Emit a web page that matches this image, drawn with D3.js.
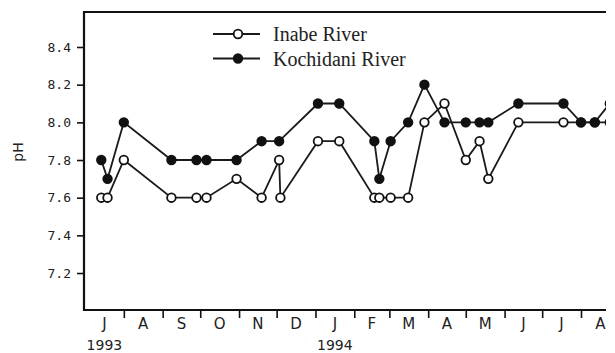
<html>
<head>
<script src="https://d3js.org/d3.v7.min.js"></script>
<style>
    body { margin: 0; background: #fff; }
    .y.axis text { font-family: "DejaVu Sans Mono", monospace; font-size: 13px; fill: #222; }
    .axis line { stroke: #111; stroke-width: 1.6; }
    .axis .domain { stroke: none; }
    .month { font-family: "DejaVu Sans", sans-serif; font-size: 15px; fill: #222; }
    .year { font-family: "DejaVu Sans", sans-serif; font-size: 14px; fill: #222; }
    .legend text { font-family: "Liberation Serif", serif; font-size: 20px; fill: #222; }
</style>
</head>
<body>
<svg id="chart" width="615" height="353"></svg>
<script>
    // sampling dates (shared by both rivers where they line up)
    const kochiDates = ["1993-07-14","1993-07-19","1993-08-01","1993-09-08","1993-09-28","1993-10-06",
                        "1993-10-30","1993-11-19","1993-12-03","1994-01-03","1994-01-20","1994-02-17",
                        "1994-02-21","1994-03-02","1994-03-16","1994-03-29","1994-04-14","1994-05-01",
                        "1994-05-12","1994-05-19","1994-06-12","1994-07-18","1994-08-01","1994-08-12",
                        "1994-08-24"];
    const kochiValues = [7.8, 7.7, 8.0, 7.8, 7.8, 7.8,
                         7.8, 7.9, 7.9, 8.1, 8.1, 7.9,
                         7.7, 7.9, 8.0, 8.2, 8.0, 8.0,
                         8.0, 8.0, 8.1, 8.1, 8.0, 8.0,
                         8.1];

    const inabeDates = ["1993-07-14","1993-07-19","1993-08-01","1993-09-08","1993-09-28","1993-10-06",
                        "1993-10-30","1993-11-19","1993-12-03","1993-12-04","1994-01-03","1994-01-20",
                        "1994-02-17","1994-02-21","1994-03-02","1994-03-16","1994-03-29","1994-04-14",
                        "1994-05-01","1994-05-12","1994-05-19","1994-06-12","1994-07-18","1994-08-01",
                        "1994-08-12","1994-08-24"];
    const inabeValues = [7.6, 7.6, 7.8, 7.6, 7.6, 7.6,
                         7.7, 7.6, 7.8, 7.6, 7.9, 7.9,
                         7.6, 7.6, 7.6, 7.6, 8.0, 8.1,
                         7.8, 7.9, 7.7, 8.0, 8.0, 8.0,
                         8.0, 8.0];

    const yTicks = [7.2, 7.4, 7.6, 7.8, 8.0, 8.2, 8.4];
    const monthLabels = ["J","A","S","O","N","D","J","F","M","A","M","J","J","A"];
    const yearLabels = ["1993", "1994"];
    const seriesNames = ["Inabe River", "Kochidani River"];

    const parse = d3.timeParse("%Y-%m-%d");
    const inabe = inabeDates.map((d, i) => ({date: parse(d), v: inabeValues[i]}));
    const kochi = kochiDates.map((d, i) => ({date: parse(d), v: kochiValues[i]}));

    const svg = d3.select("svg#chart");
    const frameLeft = 84, frameTop = 12, frameBottom = 310, cutRight = 606;

    const x = d3.scaleTime().domain([new Date(1993, 6, 1), new Date(1994, 7, 1)]).range([85, 581]);
    const y = d3.scaleLinear().domain([7.0, 8.4]).range([310.7, 47]);

    svg.append("clipPath").attr("id", "cut")
       .append("rect").attr("x", 0).attr("y", 0).attr("width", cutRight).attr("height", 353);

    const g = svg.append("g").attr("clip-path", "url(#cut)");

    // y axis
    g.append("g").attr("class", "y axis")
     .attr("transform", `translate(${frameLeft},0)`)
     .call(d3.axisLeft(y).tickValues(yTicks).tickSize(7).tickPadding(6).tickFormat(d3.format(".1f")));

    // x axis tick marks (month boundaries)
    const monthStarts = d3.timeMonth.range(new Date(1993, 7, 1), new Date(1994, 8, 2));
    g.append("g").attr("class", "x axis")
     .attr("transform", `translate(0,${frameBottom + 1})`)
     .call(d3.axisBottom(x).tickValues(monthStarts).tickSize(7).tickFormat(""));

    // month labels centred in each month
    const months = d3.timeMonth.range(new Date(1993, 6, 1), new Date(1994, 8, 1));
    g.selectAll("text.month").data(monthLabels)
     .join("text").attr("class", "month")
     .attr("x", (d, i) => (x(months[i]) + x(d3.timeMonth.offset(months[i], 1))) / 2)
     .attr("y", 329)
     .attr("text-anchor", "middle")
     .text(d => d);

    const yearMonths = [months[0], months[6]];
    g.selectAll("text.year").data(yearLabels)
     .join("text").attr("class", "year")
     .attr("x", (d, i) => (x(yearMonths[i]) + x(d3.timeMonth.offset(yearMonths[i], 1))) / 2)
     .attr("y", 350)
     .attr("text-anchor", "middle")
     .text(d => d);

    // frame
    g.append("path")
     .attr("d", `M${cutRight + 5},${frameTop} H${frameLeft} V${frameBottom} H${cutRight + 5}`)
     .attr("fill", "none").attr("stroke", "#111").attr("stroke-width", 2.2);

    svg.append("text").attr("transform", "translate(23,152) rotate(-90)")
       .attr("text-anchor", "middle")
       .style("font-family", "DejaVu Sans, sans-serif").style("font-size", "14px").style("fill", "#222")
       .text("pH");

    const line = d3.line().x(d => x(d.date)).y(d => y(d.v));

    function drawSeries(data, filled) {
        g.append("path").datum(data)
         .attr("d", line)
         .attr("fill", "none").attr("stroke", "#1a1a1a").attr("stroke-width", 1.8);
        g.append("g").selectAll("circle").data(data)
         .join("circle")
         .attr("cx", d => x(d.date)).attr("cy", d => y(d.v))
         .attr("r", 4.3)
         .attr("fill", filled ? "#111" : "#fff")
         .attr("stroke", "#111").attr("stroke-width", 1.8);
    }
    drawSeries(inabe, false);
    drawSeries(kochi, true);

    // legend
    const legend = svg.append("g").attr("class", "legend");
    seriesNames.forEach((name, i) => {
        const ly = 34 + i * 24.5;
        legend.append("line").attr("x1", 213).attr("x2", 260).attr("y1", ly).attr("y2", ly)
              .attr("stroke", "#1a1a1a").attr("stroke-width", 1.8);
        legend.append("circle").attr("cx", 238).attr("cy", ly).attr("r", 4.3)
              .attr("fill", i === 0 ? "#fff" : "#111").attr("stroke", "#111").attr("stroke-width", 1.8);
        legend.append("text").attr("x", 273).attr("y", ly + 7).text(name);
    });
</script>
</body>
</html>
